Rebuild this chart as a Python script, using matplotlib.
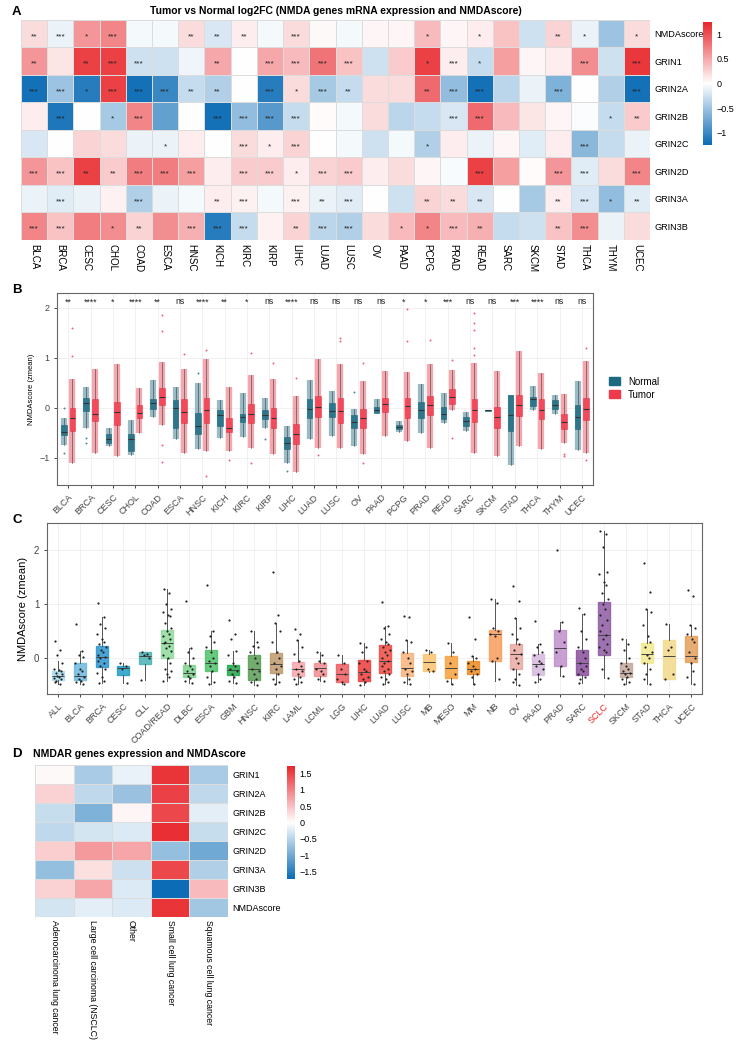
import numpy as np
import matplotlib
matplotlib.use("Agg")
import matplotlib.pyplot as plt
from matplotlib.colors import LinearSegmentedColormap
from matplotlib.patches import Patch

plt.rcParams['font.family'] = ['Liberation Sans', 'DejaVu Sans']

W, H = 738, 1044

# ---------------- panel A data ----------------
genesA = ["NMDAscore", "GRIN1", "GRIN2A", "GRIN2B", "GRIN2C", "GRIN2D", "GRIN3A", "GRIN3B"]
cancersA = ["BLCA", "BRCA", "CESC", "CHOL", "COAD", "ESCA", "HNSC", "KICH", "KIRC", "KIRP", "LIHC", "LUAD",
            "LUSC", "OV", "PAAD", "PCPG", "PRAD", "READ", "SARC", "SKCM", "STAD", "THCA", "THYM", "UCEC"]
fcA = [
    [0.2, -0.1, 0.6, 0.7, -0.05, -0.05, 0.2, -0.2, 0.1, -0.05, 0.2, 0.03, -0.05, 0.05, 0.05, 0.4, 0.05, 0.1, 0.35, -0.25, 0.25, -0.1, -0.5, 0.2],
    [0.6, 0.15, 1.1, 1.1, -0.25, -0.25, -0.08, 0.5, 0.0, 0.5, 0.4, 0.8, 0.35, -0.25, 0.3, 1.1, 0.1, -0.3, 0.55, 0.05, 0.1, 0.65, -0.25, 1.15],
    [-1.2, -0.5, -1.1, 1.1, -1.2, -1.0, -0.3, -0.4, 0.0, -1.1, 0.2, -0.45, -0.3, 0.2, 0.2, 0.85, -0.55, -1.2, -0.35, -0.1, -0.65, 0.0, -0.4, -1.2],
    [0.1, -1.15, 0.0, -0.45, 0.7, -0.8, 0.0, -1.2, -0.55, -0.85, -0.3, 0.02, -0.05, 0.2, -0.35, -0.3, -0.2, 0.85, 0.4, 0.15, 0.05, -0.02, -0.3, 0.3],
    [-0.2, 0.0, 0.25, 0.2, -0.1, -0.1, 0.1, 0.0, 0.2, 0.1, 0.25, 0.0, -0.05, -0.25, -0.05, -0.4, 0.1, -0.1, 0.05, -0.15, 0.1, -0.6, -0.3, -0.1],
    [0.6, 0.35, 1.1, 0.3, 0.75, 0.75, 0.55, 0.1, 0.3, 0.3, 0.1, 0.25, 0.3, 0.1, 0.2, 0.05, -0.03, 1.1, 0.55, 0.02, 0.6, -0.15, 0.2, 0.7],
    [-0.1, -0.15, -0.1, 0.08, -0.4, -0.1, -0.05, 0.1, 0.08, -0.05, 0.08, -0.1, -0.15, 0.0, -0.25, 0.25, 0.2, -0.2, 0.0, -0.45, 0.1, -0.2, -0.55, -0.15],
    [0.7, 0.35, 0.75, 0.65, 0.25, 0.65, 0.45, -1.1, -0.3, 0.08, 0.25, -0.35, -0.4, 0.2, 0.4, 0.7, 0.4, 0.45, -0.3, -0.25, 0.35, 0.65, -0.1, 0.2],
]
starsA = [
    ["**", "***", "*", "***", "", "", "**", "**", "**", "", "***", "", "", "", "", "*", "", "*", "", "", "**", "*", "", "*"],
    ["**", "", "**", "***", "***", "", "", "**", "", "***", "***", "***", "***", "", "", "*", "***", "*", "", "", "", "***", "", "***"],
    ["***", "***", "*", "***", "***", "***", "**", "**", "", "***", "*", "***", "**", "", "", "**", "***", "***", "", "", "***", "", "", "***"],
    ["", "***", "", "*", "***", "", "", "***", "***", "***", "***", "", "", "", "", "", "***", "***", "", "", "", "", "*", "**"],
    ["", "", "", "", "", "*", "", "", "***", "*", "***", "", "", "", "", "*", "", "", "", "", "", "***", "", ""],
    ["***", "***", "**", "**", "***", "***", "***", "", "***", "***", "*", "***", "***", "", "", "", "", "***", "", "", "***", "***", "", "***"],
    ["", "***", "", "", "***", "", "", "**", "***", "", "***", "**", "***", "", "", "**", "**", "**", "", "", "**", "***", "*", "**"],
    ["***", "***", "", "*", "**", "", "***", "***", "***", "", "**", "***", "***", "", "*", "*", "***", "**", "", "", "**", "***", "", ""],
]

# ---------------- panel B data ----------------
cancersB = cancersA
sigB = ["**", "****", "*", "****", "**", "ns", "****", "**", "*", "ns", "****", "ns", "ns", "ns", "ns",
        "*", "*", "***", "ns", "ns", "***", "****", "ns", "ns"]
norm_q1 = [-0.55, -0.07, -0.70, -0.87, -0.03, -0.40, -0.53, -0.37, -0.29, -0.22, -0.83, -0.20, -0.18, -0.40, -0.11, -0.43, -0.21, -0.23, -0.37, -0.06, -0.47, 0.03, -0.03, -0.42]
norm_med = [-0.48, 0.10, -0.62, -0.63, 0.09, -0.01, -0.37, -0.15, -0.19, -0.15, -0.71, -0.03, -0.07, -0.29, -0.05, -0.39, -0.05, -0.13, -0.27, -0.05, -0.15, 0.17, 0.06, -0.18]
norm_q3 = [-0.35, 0.19, -0.52, -0.53, 0.17, 0.15, -0.10, -0.05, -0.13, -0.04, -0.59, 0.17, 0.10, -0.15, 0.02, -0.35, 0.12, 0.01, -0.18, -0.04, 0.25, 0.21, 0.15, 0.06]
norm_lo = [-0.75, -0.40, -0.77, -0.95, -0.18, -0.63, -0.83, -0.60, -0.58, -0.40, -1.10, -0.63, -0.57, -0.77, -0.11, -0.48, -0.50, -0.30, -0.47, -0.06, -1.15, -0.05, -0.13, -0.85]
norm_hi = [-0.20, 0.42, -0.40, -0.25, 0.55, 0.42, 0.50, 0.15, 0.30, 0.20, -0.37, 0.55, 0.33, -0.03, 0.17, -0.27, 0.47, 0.29, -0.08, -0.04, 0.25, 0.43, 0.25, 0.53]
tum_q1 = [-0.47, -0.27, -0.35, -0.20, 0.05, -0.30, -0.30, -0.49, -0.30, -0.40, -0.73, -0.18, -0.30, -0.40, -0.09, -0.20, -0.15, 0.07, -0.29, -0.40, -0.17, -0.23, -0.43, -0.25]
tum_med = [-0.20, -0.12, -0.08, -0.10, 0.21, -0.08, -0.05, -0.41, -0.13, -0.21, -0.53, 0.02, -0.07, -0.21, 0.08, 0.03, 0.05, 0.22, -0.05, -0.19, 0.05, -0.05, -0.29, -0.02]
tum_q3 = [0.00, 0.17, 0.11, 0.05, 0.40, 0.17, 0.20, -0.20, 0.07, 0.00, -0.33, 0.23, 0.19, -0.03, 0.20, 0.20, 0.23, 0.38, 0.18, 0.01, 0.25, 0.17, -0.13, 0.20]
tum_lo = [-1.10, -0.90, -0.97, -0.50, -0.35, -0.90, -0.87, -0.87, -0.80, -0.93, -1.29, -0.80, -0.80, -0.93, -0.57, -0.67, -0.80, -0.05, -0.91, -0.97, -0.77, -0.83, -0.70, -0.90]
tum_hi = [0.57, 0.78, 0.87, 0.40, 0.91, 0.77, 0.97, 0.42, 0.65, 0.57, 0.23, 0.98, 0.87, 0.53, 0.73, 0.71, 0.87, 0.75, 0.89, 0.73, 1.13, 0.70, 0.27, 0.93]
norm_out = {"BLCA": [0.0, -0.91], "BRCA": [-0.6, -0.7], "HNSC": [0.7], "KIRP": [-0.63], "LIHC": [-1.27], "OV": [0.32]}
tum_out = {"BLCA": [1.6, 1.03], "COAD": [1.85, 1.53, -0.75, -1.08], "ESCA": [1.07], "HNSC": [1.15, -1.37],
           "KICH": [-1.05], "KIRC": [1.1, -1.1], "KIRP": [0.9], "LIHC": [0.6], "LUAD": [-0.95],
           "LUSC": [1.4, 1.33], "OV": [0.9, -1.1], "PCPG": [1.97, 1.33], "PRAD": [1.35], "READ": [0.95, -0.6],
           "SARC": [1.9, 1.7, 1.55, 1.2, 1.05], "THYM": [-0.93, -0.97], "UCEC": [1.2, -1.05]}

# ---------------- panel C data ----------------
cancersC = ["ALL", "BLCA", "BRCA", "CESC", "CLL", "COAD/READ", "DLBC", "ESCA", "GBM", "HNSC", "KIRC", "LAML",
            "LCML", "LGG", "LIHC", "LUAD", "LUSC", "MB", "MESO", "MM", "NB", "OV", "PAAD", "PRAD", "SARC",
            "SCLC", "SKCM", "STAD", "THCA", "UCEC"]
c_q1 = [-0.41, -0.41, -0.17, -0.31, -0.11, 0.00, -0.35, -0.25, -0.32, -0.41, -0.28, -0.34, -0.33, -0.45, -0.43,
        -0.28, -0.34, -0.25, -0.38, -0.29, -0.06, -0.20, -0.31, -0.15, -0.32, 0.06, -0.35, -0.10, -0.39, -0.08]
c_med = [-0.34, -0.33, 0.01, -0.19, 0.04, 0.27, -0.28, -0.09, -0.23, -0.20, -0.11, -0.20, -0.19, -0.29, -0.26,
         -0.06, -0.19, -0.08, -0.19, -0.20, 0.44, 0.08, -0.11, 0.18, -0.10, 0.43, -0.28, 0.07, 0.04, 0.03]
c_q3 = [-0.25, -0.10, 0.22, -0.15, 0.10, 0.52, -0.14, 0.14, -0.14, 0.06, 0.09, -0.07, -0.09, -0.12, -0.04,
        0.23, 0.09, 0.08, 0.03, -0.05, 0.52, 0.25, 0.08, 0.51, 0.14, 1.03, -0.10, 0.28, 0.33, 0.40]
c_lo = [-0.49, -0.48, -0.46, -0.46, -0.41, -0.43, -0.46, -0.49, -0.46, -0.51, -0.48, -0.49, -0.43, -0.49, -0.51,
        -0.49, -0.49, -0.27, -0.48, -0.49, -0.42, -0.51, -0.45, -0.34, -0.46, -0.37, -0.49, -0.49, -0.40, -0.48]
c_hi = [-0.06, 0.12, 0.75, -0.09, 0.10, 1.27, 0.19, 0.49, 0.12, 0.49, 0.64, 0.34, 0.10, 0.06, 0.27,
        0.59, 0.33, 0.15, 0.28, 0.04, 1.09, 0.73, 0.25, 0.66, 0.82, 2.36, 0.35, 0.91, 0.62, 0.60]
c_pts = [
    [0.31, 0.15, 0.05, -0.1, -0.2, -0.22, -0.25, -0.28, -0.3, -0.33, -0.35, -0.38, -0.4, -0.42, -0.45, -0.48],
    [0.62, 0.12, 0.05, 0.02, -0.1, -0.2, -0.25, -0.3, -0.35, -0.4, -0.42, -0.45, -0.48],
    [1.02, 0.75, 0.63, 0.55, 0.45, 0.35, 0.3, 0.25, 0.2, 0.15, 0.1, 0.05, 0.02, 0.0, -0.05, -0.1, -0.15, -0.2, -0.28, -0.35, -0.42, -0.46],
    [-0.1, -0.15, -0.2, -0.46],
    [0.1, 0.07, 0.05, 0.0, -0.41],
    [1.27, 1.2, 1.0, 0.9, 0.85, 0.8, 0.78, 0.65, 0.55, 0.5, 0.45, 0.4, 0.35, 0.3, 0.27, 0.22, 0.18, 0.12, 0.05, 0.0, -0.1, -0.2, -0.25, -0.3, -0.35, -0.43],
    [1.05, 0.19, 0.1, 0.0, -0.1, -0.15, -0.2, -0.25, -0.3, -0.33, -0.38, -0.42, -0.46],
    [1.35, 0.49, 0.4, 0.3, 0.2, 0.1, 0.0, -0.05, -0.1, -0.15, -0.25, -0.35, -0.45, -0.49],
    [0.7, 0.45, 0.35, 0.12, 0.05, -0.1, -0.15, -0.2, -0.25, -0.3, -0.35, -0.42, -0.46],
    [0.49, 0.3, 0.22, 0.2, 0.1, 0.0, -0.1, -0.2, -0.25, -0.3, -0.4, -0.45, -0.5],
    [1.6, 0.8, 0.64, 0.5, 0.3, 0.1, 0.0, -0.1, -0.15, -0.2, -0.3, -0.4, -0.45, -0.48],
    [0.53, 0.45, 0.34, 0.2, 0.07, -0.05, -0.15, -0.2, -0.25, -0.3, -0.35, -0.4, -0.45, -0.49],
    [0.1, 0.05, -0.05, -0.1, -0.2, -0.25, -0.3, -0.4, -0.43],
    [0.06, -0.1, -0.2, -0.3, -0.4, -0.45, -0.48],
    [0.27, 0.2, 0.1, -0.05, -0.1, -0.2, -0.25, -0.3, -0.35, -0.4, -0.45, -0.5],
    [1.03, 0.59, 0.55, 0.45, 0.35, 0.3, 0.25, 0.2, 0.15, 0.1, 0.05, 0.0, -0.05, -0.1, -0.15, -0.2, -0.25, -0.3, -0.35, -0.4, -0.45, -0.49],
    [0.77, 0.76, 0.33, 0.3, 0.1, 0.0, -0.1, -0.2, -0.25, -0.3, -0.4, -0.45, -0.49],
    [0.15, 0.1, -0.2, -0.25],
    [0.28, 0.1, -0.1, -0.3, -0.42, -0.48],
    [0.75, 0.35, 0.04, 0.0, -0.1, -0.15, -0.2, -0.25, -0.3, -0.35, -0.49],
    [1.09, 1.02, 0.55, 0.5, 0.45, 0.4, 0.0, -0.06, -0.4],
    [1.33, 1.05, 0.73, 0.55, 0.45, 0.35, 0.25, 0.15, 0.08, 0.0, -0.1, -0.2, -0.3, -0.4, -0.45, -0.51],
    [0.68, 0.25, 0.2, 0.1, 0.05, -0.05, -0.1, -0.15, -0.2, -0.3, -0.4, -0.45],
    [2.0, 0.66, 0.5, 0.3, 0.1, -0.15, -0.34],
    [0.93, 0.82, 0.5, 0.35, 0.2, 0.1, 0.0, -0.1, -0.15, -0.2, -0.25, -0.3, -0.35, -0.4, -0.46],
    [2.36, 2.3, 2.05, 1.6, 1.55, 1.4, 1.35, 1.2, 1.1, 1.0, 0.9, 0.8, 0.7, 0.6, 0.5, 0.43, 0.35, 0.25, 0.2, 0.15, 0.1, -0.2, -0.37],
    [0.35, 0.25, 0.15, 0.0, -0.1, -0.15, -0.2, -0.25, -0.28, -0.3, -0.35, -0.4, -0.45, -0.49],
    [1.76, 1.22, 0.91, 0.85, 0.6, 0.4, 0.3, 0.2, 0.1, 0.05, 0.0, -0.1, -0.2, -0.3, -0.4, -0.49],
    [0.62, 0.2, 0.15, -0.3, -0.4],
    [1.25, 1.15, 0.6, 0.55, 0.45, 0.35, 0.3, 0.1, 0.0, -0.1, -0.25, -0.35, -0.48],
]
colsC = ['#a6dcef', '#6cb8de', '#2b95cf', '#1f9cc5', '#4ab3b3', '#8fdb9d', '#7dd48c', '#4cc26a', '#20a84a',
         '#5a9e56', '#bf9a6c', '#f6a6aa', '#f48c90', '#f25c60', '#ef3b3c', '#f04a42', '#f9b37c', '#fcc36f',
         '#f9a13d', '#f08a1c', '#f89c5c', '#eaa9a1', '#d7b9dd', '#bf8fca', '#8c4f9f', '#8d5aa1', '#c5a699',
         '#f3e98e', '#f3d98a', '#e49f59']

# ---------------- panel D data ----------------
genesD = ["GRIN1", "GRIN2A", "GRIN2B", "GRIN2C", "GRIN2D", "GRIN3A", "GRIN3B", "NMDAscore"]
typesD = ["Adenocarcinoma lung cancer", "Large cell carcinoma (NSCLC)", "Other", "Small cell lung cancer",
          "Squamous cell lung cancer"]
valsD = [
    [0.05, -0.6, -0.15, 1.6, -0.6],
    [0.35, -0.45, -0.7, 1.5, -0.45],
    [-0.4, -0.9, 0.08, 1.45, -0.2],
    [-0.45, -0.3, -0.25, 1.65, -0.4],
    [0.4, 0.8, 0.7, -0.75, -1.0],
    [-0.75, 0.25, -0.35, 1.45, -0.55],
    [0.35, 0.7, -0.25, -1.7, 0.55],
    [-0.3, -0.2, -0.25, 1.6, -0.65],
]


def rect(x0, y0, x1, y1):
    return [x0 / W, 1 - y1 / H, (x1 - x0) / W, (y1 - y0) / H]


cmap = LinearSegmentedColormap.from_list("bwr2", ["#0a6bb4", "#ffffff", "#e8262b"])

fig = plt.figure(figsize=(W / 100, H / 100), dpi=100)

# ================= A =================
axA = fig.add_axes(rect(21, 20, 650, 240))
mA = axA.pcolormesh(np.arange(len(cancersA) + 1), np.arange(len(genesA) + 1), np.array(fcA), cmap=cmap,
                    vmin=-1.25, vmax=1.25, edgecolors='#dcdcdc', linewidth=0.7)
axA.set_xlim(0, len(cancersA))
axA.set_ylim(len(genesA), 0)
for i in range(len(genesA)):
    for j in range(len(cancersA)):
        if starsA[i][j]:
            axA.text(j + 0.5, i + 0.6, starsA[i][j], ha='center', va='center', fontsize=6, color='#222222')
axA.set_xticks(np.arange(len(cancersA)) + 0.5)
axA.set_xticklabels(cancersA, rotation=270, fontsize=7)
axA.set_yticks(np.arange(len(genesA)) + 0.5)
axA.set_yticklabels(genesA, fontsize=6.6)
axA.yaxis.tick_right()
axA.tick_params(length=0, pad=3)
for s in axA.spines.values():
    s.set_visible(False)
axA.set_title("Tumor vs Normal log2FC (NMDA genes mRNA expression and NMDAscore)", fontsize=7.5,
              fontweight='bold', pad=4, x=0.5)
caxA = fig.add_axes(rect(703, 22, 712, 145))
cbA = fig.colorbar(mA, cax=caxA, ticks=[-1, -0.5, 0, 0.5, 1])
cbA.set_ticklabels(["\u22121", "\u22120.5", "0", "0.5", "1"])
cbA.outline.set_visible(False)
cbA.ax.tick_params(length=0, labelsize=6.5, pad=3)

# ================= B =================
axB = fig.add_axes(rect(57, 293, 593, 485))
nB = len(cancersB)
xs = np.arange(1, nB + 1)
c_norm, c_tum = '#1d6a80', '#ef3a4d'
for k, (q1, md, q3, lo, hi, col, off, outs) in enumerate([
        (norm_q1, norm_med, norm_q3, norm_lo, norm_hi, c_norm, -0.19, norm_out),
        (tum_q1, tum_med, tum_q3, tum_lo, tum_hi, c_tum, 0.19, tum_out)]):
    stats = [dict(q1=q1[i], med=md[i], q3=q3[i], whislo=lo[i], whishi=hi[i], fliers=[]) for i in range(nB)]
    pos = xs + off
    # dot-cloud band behind box
    axB.vlines(pos, lo, hi, color=col, lw=4.5, alpha=0.45, zorder=1)
    bp = axB.bxp(stats, positions=pos, widths=0.26, patch_artist=True, showfliers=False,
                 boxprops=dict(facecolor=col, edgecolor=col, alpha=0.85, lw=0.5),
                 medianprops=dict(color='#333333', lw=0.8),
                 whiskerprops=dict(color='#555555', lw=0.5), capprops=dict(lw=0), manage_ticks=False)
    for i, c in enumerate(cancersB):
        if c in outs:
            axB.scatter([pos[i]] * len(outs[c]), outs[c], s=2, color=col, alpha=0.8, lw=0, zorder=3)
for i, s in enumerate(sigB):
    axB.text(xs[i], 2.12, s, ha='center', va='center', fontsize=6.3, color='#222222')
axB.set_xlim(0.5, nB + 0.5)
axB.set_ylim(-1.55, 2.3)
axB.set_yticks([-1, 0, 1, 2])
axB.set_yticklabels(["\u22121", "0", "1", "2"])
axB.set_xticks(xs)
axB.set_xticklabels(cancersB, rotation=45, ha='right', rotation_mode='anchor', fontsize=6.5, color='#444444')
axB.tick_params(axis='y', labelsize=6.5, labelcolor='#444444', length=2, width=0.5)
axB.tick_params(axis='x', length=2, width=0.5)
axB.grid(True, color='#ececec', lw=0.5)
axB.set_axisbelow(True)
for s in axB.spines.values():
    s.set_color('#666666')
    s.set_linewidth(0.8)
axB.set_ylabel("NMDAscore (zmean)", fontsize=5.5, labelpad=3)
fig.legend(handles=[Patch(facecolor=c_norm, edgecolor=c_norm, label='Normal'),
                    Patch(facecolor=c_tum, edgecolor=c_tum, label='Tumor')],
           loc='upper left', bbox_to_anchor=(600 / W, 1 - 368 / H), frameon=False, fontsize=7,
           handlelength=1.2, handleheight=0.9, labelspacing=0.3)

# ================= C =================
axC = fig.add_axes(rect(47, 523, 702, 694))
nC = len(cancersC)
xc = np.arange(1, nC + 1)
statsC = [dict(q1=c_q1[i], med=c_med[i], q3=c_q3[i], whislo=c_lo[i], whishi=c_hi[i], fliers=[]) for i in range(nC)]
bpC = axC.bxp(statsC, positions=xc, widths=0.55, patch_artist=True, showfliers=False,
              medianprops=dict(color='#444444', lw=0.7), whiskerprops=dict(color='#555555', lw=0.7),
              capprops=dict(lw=0), manage_ticks=False)
for patch, col in zip(bpC['boxes'], colsC):
    patch.set_facecolor(col)
    patch.set_edgecolor(col)
    patch.set_alpha(0.85)
jit = [-0.15, 0.1, -0.05, 0.17, -0.2, 0.03, 0.12, -0.1, 0.2, -0.02, 0.07, -0.17, 0.14, -0.08]
for i in range(nC):
    px = [xc[i] + jit[k % len(jit)] for k in range(len(c_pts[i]))]
    axC.scatter(px, c_pts[i], s=2.5, color='#222222', lw=0, zorder=4)
axC.set_xlim(0.5, nC + 0.5)
axC.set_ylim(-0.67, 2.5)
axC.set_yticks([0, 1, 2])
axC.set_xticks(xc)
axC.set_xticklabels(cancersC, rotation=45, ha='right', rotation_mode='anchor', fontsize=6.5, color='#444444')
axC.get_xticklabels()[cancersC.index("SCLC")].set_color('#e8262b')
axC.tick_params(axis='y', labelsize=7, labelcolor='#444444', length=2, width=0.5)
axC.tick_params(axis='x', length=2, width=0.5)
axC.grid(True, color='#ececec', lw=0.5)
axC.set_axisbelow(True)
for s in axC.spines.values():
    s.set_color('#666666')
    s.set_linewidth(0.8)
axC.set_ylabel("NMDAscore (zmean)", fontsize=8, labelpad=4)

# ================= D =================
axD = fig.add_axes(rect(35, 765, 228, 917))
mD = axD.pcolormesh(np.arange(len(typesD) + 1), np.arange(len(genesD) + 1), np.array(valsD), cmap=cmap,
                    vmin=-1.72, vmax=1.72, edgecolors='#dcdcdc', linewidth=0.7)
axD.set_xlim(0, len(typesD))
axD.set_ylim(len(genesD), 0)
axD.set_xticks(np.arange(len(typesD)) + 0.5)
axD.set_xticklabels(typesD, rotation=270, fontsize=6.3, va='top')
axD.set_yticks(np.arange(len(genesD)) + 0.5)
axD.set_yticklabels(genesD, fontsize=6.5)
axD.yaxis.tick_right()
axD.tick_params(axis='y', length=0, pad=3)
axD.tick_params(axis='x', length=0, pad=2)
for s in axD.spines.values():
    s.set_visible(False)
caxD = fig.add_axes(rect(287, 766, 295, 879))
cbD = fig.colorbar(mD, cax=caxD, ticks=[-1.5, -1, -0.5, 0, 0.5, 1, 1.5])
cbD.set_ticklabels(["\u22121.5", "\u22121", "\u22120.5", "0", "0.5", "1", "1.5"])
cbD.outline.set_visible(False)
cbD.ax.tick_params(length=0, labelsize=6.5, pad=3)
fig.text(33 / W, 1 - 754 / H, "NMDAR genes expression and NMDAscore", fontsize=7.5, fontweight='bold',
         va='center', ha='left')

# panel letters
for lab, (x, y) in zip("ABCD", [(12, 12), (12, 290), (12, 520), (12, 754)]):
    fig.text(x / W, 1 - y / H, lab, fontsize=9.5, fontweight='bold', va='center', ha='left')

fig.savefig("out.png", dpi=100)
